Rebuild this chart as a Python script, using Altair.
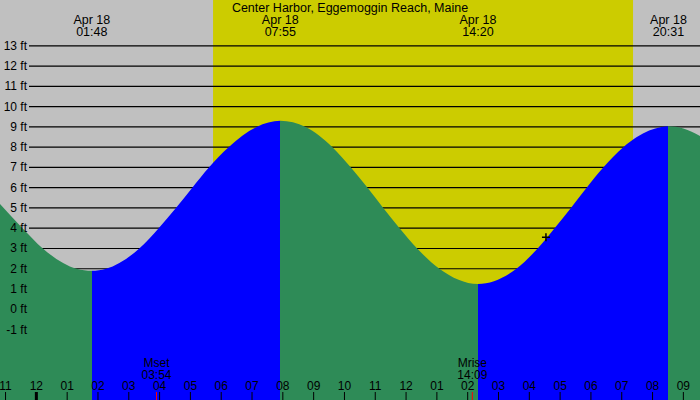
import altair as alt
import pandas as pd

# ---------------- data ----------------
title_text = "Center Harbor, Eggemoggin Reach, Maine"

# tide curve: hours after midnight Apr 18, height in ft
tide_hours = [-1.18, -0.45, 0.21, 1.31, 1.80, 2.26, 3.34, 3.97, 4.53, 5.06, 5.60,
              6.24, 7.15, 7.917, 8.74, 9.61, 10.21, 10.75, 11.26, 11.79, 12.36,
              13.08, 14.333, 15.58, 16.27, 16.82, 17.35, 17.86, 18.40, 19.05,
              19.49, 20.29, 20.517, 21.00, 21.54]
tide_ft = [5.2, 4.0, 3.0, 2.0, 1.9, 2.0, 3.0, 4.0, 5.0, 6.0, 7.0,
           8.0, 9.0, 9.3, 9.0, 8.0, 7.0, 6.0, 5.0, 4.0, 3.0,
           2.0, 1.25, 2.0, 3.0, 4.0, 5.0, 6.0, 7.0, 8.0,
           8.5, 9.0, 9.03, 8.92, 8.55]

extreme_hours = [1.800, 7.917, 14.333, 20.517]
extreme_kind = ["low", "high", "low", "high"]
extreme_dates = ["Apr 18", "Apr 18", "Apr 18", "Apr 18"]
extreme_times = ["01:48", "07:55", "14:20", "20:31"]

sunrise_hour = 5.735
sunset_hour = 19.367

moon_hours = [3.90, 14.15]
moon_names = ["Mset", "Mrise"]
moon_times = ["03:54", "14:09"]

hour_ticks = list(range(-1, 22))
hour_labels = ["11", "12", "01", "02", "03", "04", "05", "06", "07", "08", "09",
               "10", "11", "12", "01", "02", "03", "04", "05", "06", "07", "08", "09"]

ft_levels = list(range(-1, 14))
ft_labels = ["-1 ft", "0 ft", "1 ft", "2 ft", "3 ft", "4 ft", "5 ft", "6 ft",
             "7 ft", "8 ft", "9 ft", "10 ft", "11 ft", "12 ft", "13 ft"]

now_hour = [16.54]
now_ft = [3.55]

# ---------------- styling ----------------
W, H = 700, 400
X_DOMAIN = [-1.18, 21.54]
Y_DOMAIN = [-4.475, 15.26]
GRAY = "#C0C0C0"
YELLOW = "#CCCC00"
GREEN = "#2E8B57"
BLUE = "#0000FF"
FONT = "Liberation Sans"

xs = alt.Scale(domain=X_DOMAIN, nice=False, zero=False)
ys = alt.Scale(domain=Y_DOMAIN, nice=False, zero=False)

tide_df = pd.DataFrame({"h": tide_hours, "ft": tide_ft})
ext_df = pd.DataFrame({"h": extreme_hours, "date": extreme_dates, "time": extreme_times})
day_df = pd.DataFrame({"rise": [sunrise_hour], "set": [sunset_hour]})
moon_df = pd.DataFrame({"h": moon_hours, "name": moon_names, "time": moon_times})
hour_df = pd.DataFrame({"h": hour_ticks, "lab": hour_labels})
ft_df = pd.DataFrame({"ft": ft_levels, "lab": ft_labels})
now_df = pd.DataFrame({"h": now_hour, "ft": now_ft})

# gradient stops: green while falling, blue while rising
span = X_DOMAIN[1] - X_DOMAIN[0]
stops = [alt.GradientStop(color=GREEN, offset=0)]
cur = GREEN
for hh, kind in zip(extreme_hours, extreme_kind):
    off = (hh - X_DOMAIN[0]) / span
    stops.append(alt.GradientStop(color=cur, offset=off))
    cur = BLUE if kind == "low" else GREEN
    stops.append(alt.GradientStop(color=cur, offset=off))
stops.append(alt.GradientStop(color=cur, offset=1))

day = alt.Chart(day_df).mark_rect(color=YELLOW).encode(
    x=alt.X("rise:Q", scale=xs, axis=None), x2="set:Q",
    y=alt.value(0), y2=alt.value(H))

grid = alt.Chart(ft_df).mark_rule(color="black", strokeWidth=1.2).encode(
    y=alt.Y("ft:Q", scale=ys, axis=None), x=alt.value(29), x2=alt.value(W))

area = alt.Chart(tide_df).mark_area(
    interpolate="monotone",
    color=alt.LinearGradient(gradient="linear", stops=stops, x1=0, x2=1, y1=0, y2=0),
).encode(
    x=alt.X("h:Q", scale=xs, axis=None),
    y=alt.Y("ft:Q", scale=ys, axis=None),
    y2=alt.datum(Y_DOMAIN[0]))

ylabels = alt.Chart(ft_df).mark_text(
    font=FONT, fontSize=12, color="black", align="right", baseline="middle").encode(
    y=alt.Y("ft:Q", scale=ys, axis=None), x=alt.value(27), text="lab:N")

ticks = alt.Chart(hour_df).mark_rule(color="black", strokeWidth=1).encode(
    x=alt.X("h:Q", scale=xs, axis=None), y=alt.value(392), y2=alt.value(H))

midnight = alt.Chart(hour_df).transform_filter(alt.datum.h == 0).mark_rule(
    color="black", strokeWidth=3).encode(
    x=alt.X("h:Q", scale=xs, axis=None), y=alt.value(392), y2=alt.value(H))

xlabels = alt.Chart(hour_df).mark_text(
    font=FONT, fontSize=12, color="black", align="center", baseline="alphabetic").encode(
    x=alt.X("h:Q", scale=xs, axis=None), y=alt.value(390), text="lab:N")

moon_ticks = alt.Chart(moon_df).mark_rule(color="red", strokeWidth=1).encode(
    x=alt.X("h:Q", scale=xs, axis=None), y=alt.value(392), y2=alt.value(H))

moon_name = alt.Chart(moon_df).mark_text(
    font=FONT, fontSize=12, color="black", align="center", baseline="alphabetic").encode(
    x=alt.X("h:Q", scale=xs, axis=None), y=alt.value(366.5), text="name:N")

moon_time = alt.Chart(moon_df).mark_text(
    font=FONT, fontSize=12, color="black", align="center", baseline="alphabetic").encode(
    x=alt.X("h:Q", scale=xs, axis=None), y=alt.value(378.5), text="time:N")

ext_date = alt.Chart(ext_df).mark_text(
    font=FONT, fontSize=12.5, color="black", align="center", baseline="alphabetic").encode(
    x=alt.X("h:Q", scale=xs, axis=None), y=alt.value(24), text="date:N")

ext_time = alt.Chart(ext_df).mark_text(
    font=FONT, fontSize=12.5, color="black", align="center", baseline="alphabetic").encode(
    x=alt.X("h:Q", scale=xs, axis=None), y=alt.value(36), text="time:N")

title = alt.Chart(pd.DataFrame({"t": [title_text]})).mark_text(
    font=FONT, fontSize=12.5, color="black", align="center", baseline="alphabetic").encode(
    x=alt.value(W / 2), y=alt.value(11.7), text="t:N")

now = alt.Chart(now_df).mark_point(
    shape="M-1,0L1,0M0,-1L0,1", size=64, filled=False, color="black",
    strokeWidth=1.5, opacity=1).encode(
    x=alt.X("h:Q", scale=xs, axis=None), y=alt.Y("ft:Q", scale=ys, axis=None))

chart = alt.layer(
    day, grid, area, ticks, midnight, moon_ticks, ylabels, xlabels,
    moon_name, moon_time, ext_date, ext_time, title, now
).properties(
    width=W, height=H, padding=0, autosize="none", background=GRAY
).configure_view(strokeWidth=0)

chart.save("out.html", embed_options={"renderer": "svg", "actions": False})
